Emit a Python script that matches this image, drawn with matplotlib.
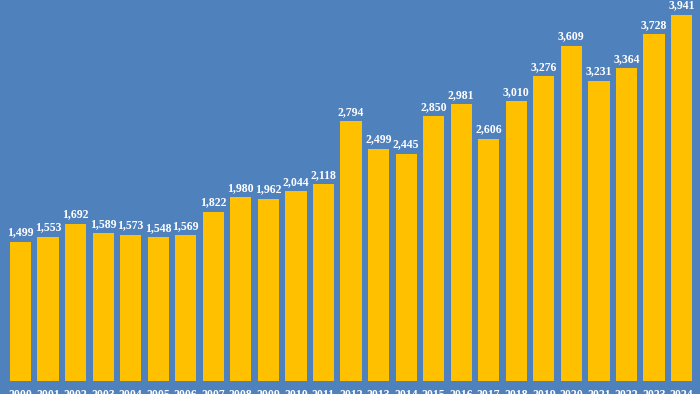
import matplotlib
matplotlib.use("Agg")
import matplotlib.pyplot as plt

years = [str(y) for y in range(2000, 2025)]
values = [1499, 1553, 1692, 1589, 1573, 1548, 1569, 1822, 1980, 1962, 2044, 2118,
          2794, 2499, 2445, 2850, 2981, 2606, 3010, 3276, 3609, 3231, 3364, 3728, 3941]

bg = "#4F81BD"
bar_color = "#FFC000"

fig = plt.figure(figsize=(7, 3.94), dpi=100, facecolor=bg)
ax = fig.add_axes([0, 0, 1, 1])
ax.set_facecolor(bg)
x = list(range(len(years)))
ax.bar(x, values, width=0.77, color=bar_color, linewidth=0)
ax.set_xlim(-0.744, 24.67)
ax.set_ylim(-139.9, 4099)
for s in ax.spines.values():
    s.set_visible(False)
ax.set_xticks([])
ax.set_yticks([])

font = dict(family="Liberation Serif", weight="bold", color="white")
for i, v in zip(x, values):
    ax.text(i, v + 35, f"{v:,}", ha="center", va="bottom", fontsize=8.5, **font)
for i, y in zip(x, years):
    ax.text(i, -91, y, ha="center", va="top", fontsize=8.5, **font)

fig.savefig("out.png", dpi=100, facecolor=bg)
